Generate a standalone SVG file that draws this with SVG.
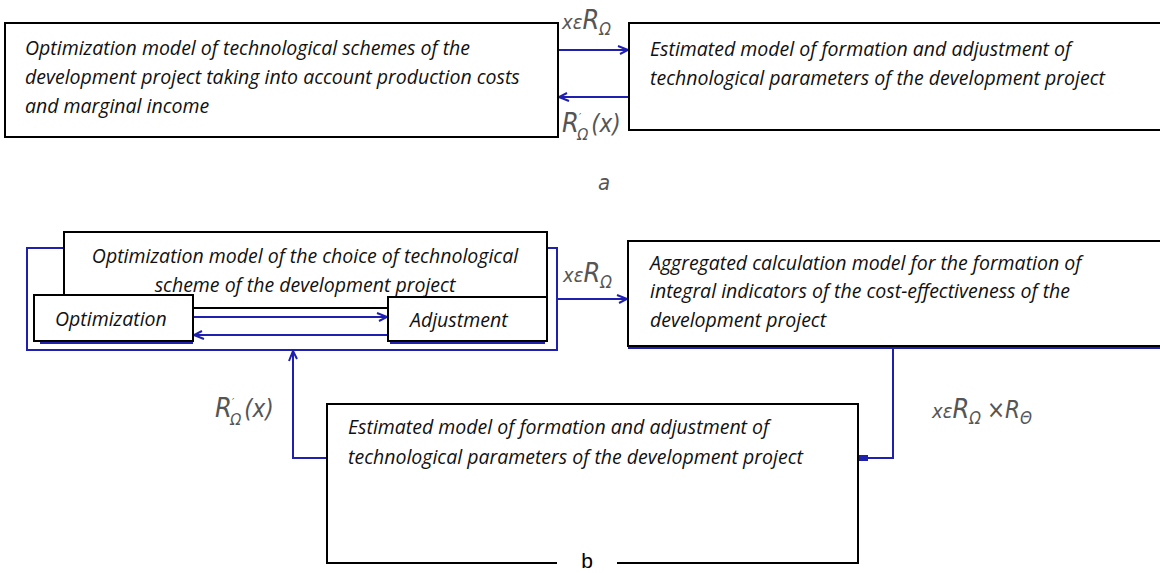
<svg xmlns="http://www.w3.org/2000/svg" width="1160" height="573" viewBox="0 0 1160 573">
<style>
.box{fill:#fff;stroke:#000;stroke-width:2}
.t{font-family:"Open Sans","Noto Sans",sans-serif;font-style:italic;font-size:19.5px;fill:#111}
.c{fill:none;stroke:#1f1fb0;stroke-width:2}
.lbl{font-family:"Liberation Sans Narrow","DejaVu Sans Condensed",sans-serif;font-style:italic;fill:#555}
</style>
<defs>
<marker id="arr" markerWidth="12" markerHeight="10" refX="11" refY="5" orient="auto" markerUnits="userSpaceOnUse">
<path d="M1,1 L11,5 L3,9" fill="none" stroke="#1f1fb0" stroke-width="2"/>
</marker>
<marker id="sq" markerWidth="10" markerHeight="8" refX="9" refY="4" orient="auto" markerUnits="userSpaceOnUse">
<rect x="1" y="1" width="9" height="6" fill="#1f1fb0"/>
</marker>
</defs>
<rect width="1160" height="573" fill="#fff"/>

<g id="connectors">
<line class="c" x1="558" y1="50" x2="628" y2="50" marker-end="url(#arr)"/>
<line class="c" x1="630" y1="97" x2="559" y2="97" marker-end="url(#arr)"/>
<path class="c" d="M64,248 H27 V350 H557 V248 H547"/>
<line class="c" x1="557" y1="299" x2="627" y2="299" marker-end="url(#arr)"/>
<line class="c" x1="193" y1="317" x2="387" y2="317" marker-end="url(#arr)"/>
<line class="c" x1="388" y1="335" x2="194" y2="335" marker-end="url(#arr)"/>
<line class="c" x1="40" y1="343" x2="193" y2="343" stroke-width="1.5"/>
<line class="c" x1="390" y1="343" x2="545" y2="343" stroke-width="1.5"/>
<line class="c" x1="628" y1="348" x2="1160" y2="348"/>
<path class="c" d="M893,348 V458 H860" marker-end="url(#sq)"/>
<path class="c" d="M327,458 H293 V351" marker-end="url(#arr)"/>
</g>

<g id="node-a1">
<rect class="box" x="5" y="23" width="553" height="114"/>
<text class="t" x="25" y="55">Optimization model of technological schemes of the</text>
<text class="t" x="25" y="84">development project taking into account production costs</text>
<text class="t" x="25" y="113">and marginal income</text>
</g>

<g id="node-a2">
<rect class="box" x="629" y="23" width="540" height="107"/>
<text class="t" x="650" y="56">Estimated model of formation and adjustment of</text>
<text class="t" x="650" y="85">technological parameters of the development project</text>
</g>

<g id="node-b1">
<rect class="box" x="64" y="232" width="483" height="76"/>
<text class="t" x="305" y="263" text-anchor="middle">Optimization model of the choice of technological</text>
<text class="t" x="305" y="292" text-anchor="middle">scheme of the development project</text>
</g>

<g id="node-b1a">
<rect class="box" x="34" y="295" width="159" height="46"/>
<text class="t" x="55" y="326">Optimization</text>
</g>

<g id="node-b1b">
<rect class="box" x="388" y="297" width="159" height="44"/>
<text class="t" x="410" y="327">Adjustment</text>
</g>

<g id="node-b2">
<rect class="box" x="628" y="241" width="540" height="105"/>
<text class="t" x="650" y="270">Aggregated calculation model for the formation of</text>
<text class="t" x="650" y="298">integral indicators of the cost-effectiveness of the</text>
<text class="t" x="650" y="327">development project</text>
</g>

<g id="node-b3">
<path class="box" d="M557,563 H327 V404 H858 V563 H617"/>
<text class="t" x="348" y="434">Estimated model of formation and adjustment of</text>
<text class="t" x="348" y="464">technological parameters of the development project</text>
</g>

<g id="labels">
<text class="lbl" x="562" y="29"><tspan font-size="20">xε</tspan><tspan font-size="27">R</tspan><tspan font-size="17" dy="6">Ω</tspan></text>
<text class="lbl" x="562" y="132"><tspan font-size="27">R</tspan><tspan font-size="11" dy="-11">′</tspan><tspan font-size="16" dx="-4" dy="19">Ω</tspan><tspan font-size="24" dx="3" dy="-8">(x)</tspan></text>
<text class="lbl" x="598" y="190" font-size="22">a</text>
<text class="lbl" x="563" y="282"><tspan font-size="20">xε</tspan><tspan font-size="27">R</tspan><tspan font-size="17" dy="6">Ω</tspan></text>
<text class="lbl" x="215" y="417"><tspan font-size="27">R</tspan><tspan font-size="11" dy="-11">′</tspan><tspan font-size="16" dx="-4" dy="19">Ω</tspan><tspan font-size="24" dx="3" dy="-8">(x)</tspan></text>
<text class="lbl" x="932" y="418"><tspan font-size="20">xε</tspan><tspan font-size="27">R</tspan><tspan font-size="17" dy="6">Ω</tspan><tspan font-size="24" dx="6" dy="-6">×R</tspan><tspan font-size="17" dy="6">Θ</tspan></text>
<text x="587" y="568" font-family="'Liberation Sans',Arial,sans-serif" font-size="21" text-anchor="middle" fill="#000">b</text>
</g>
</svg>
